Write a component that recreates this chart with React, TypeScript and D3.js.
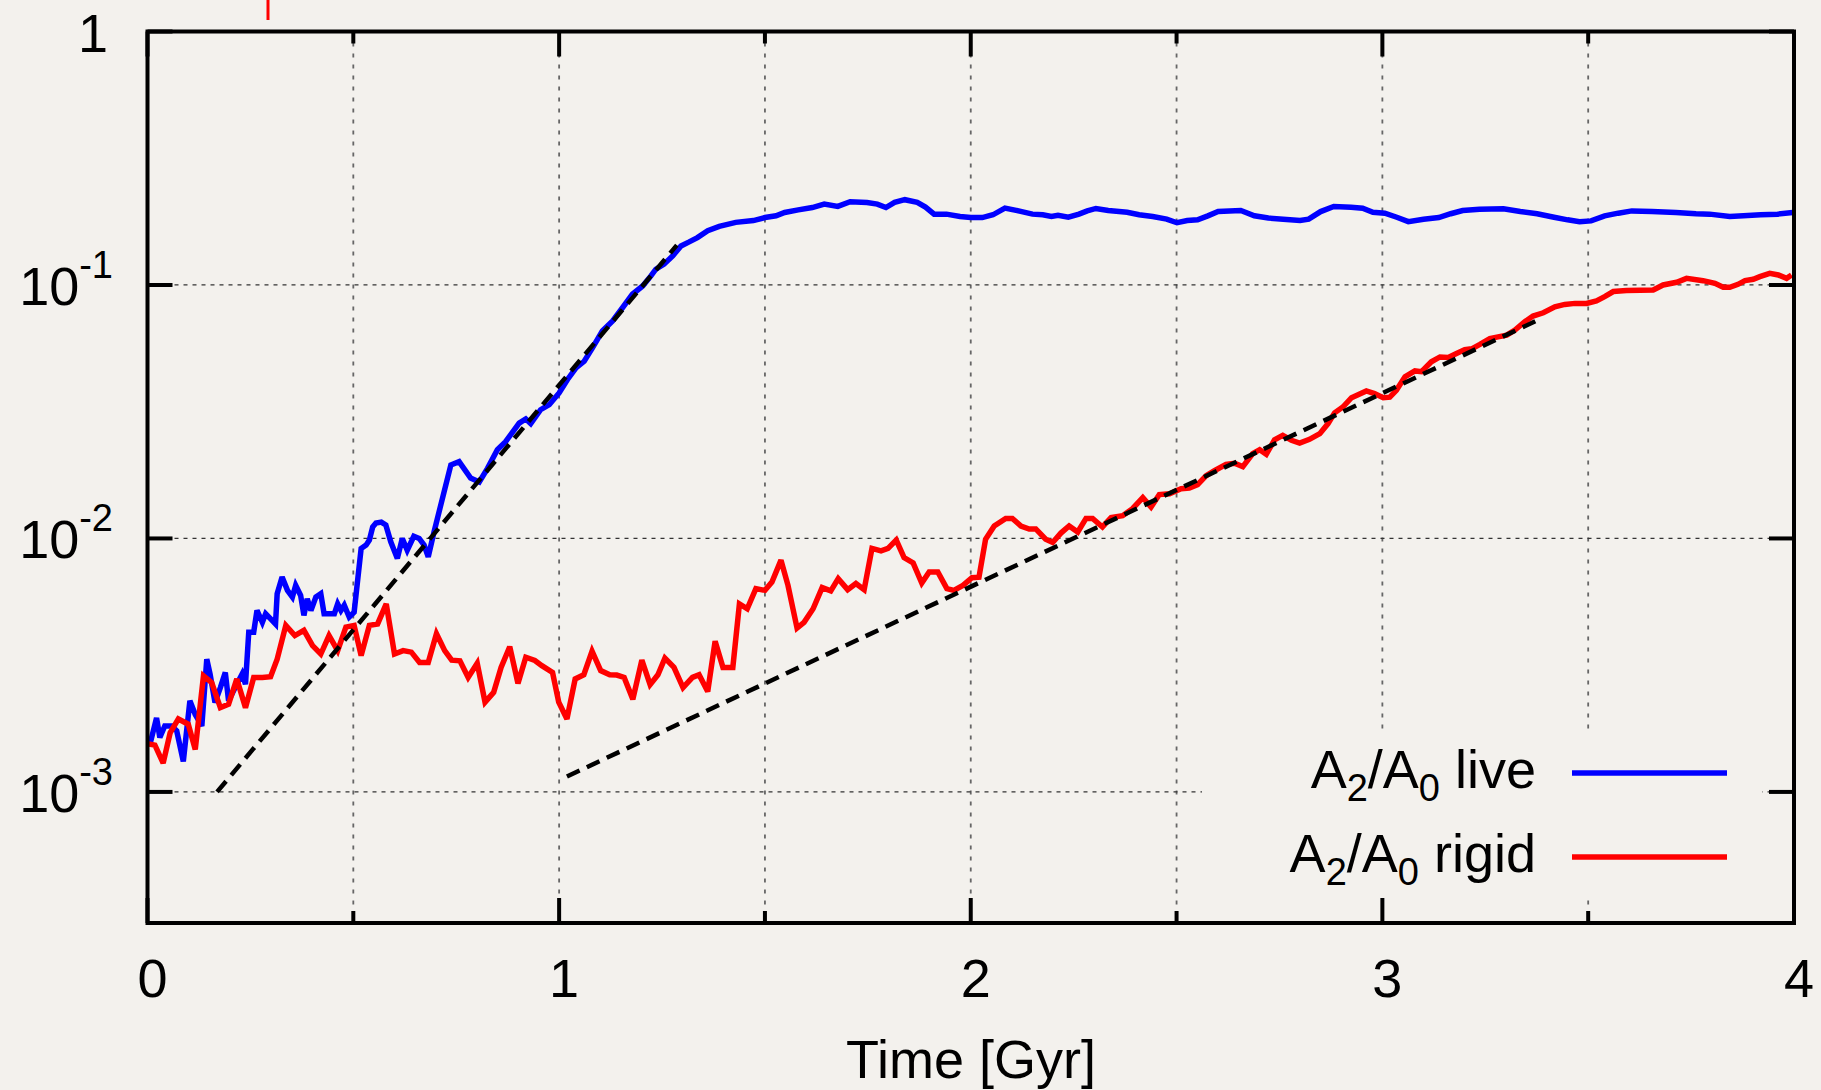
import React from 'react';
import * as d3 from 'd3';

// A2/A0 growth, live halo vs rigid halo
const liveT = [0.005, 0.022, 0.030, 0.042, 0.059, 0.071, 0.087, 0.103, 0.116, 0.132, 0.144, 0.152, 0.164, 0.177, 0.189, 0.197, 0.213, 0.230, 0.238, 0.246, 0.258, 0.266, 0.279, 0.287, 0.311, 0.315, 0.327, 0.340, 0.352, 0.360, 0.372, 0.380, 0.388, 0.397, 0.409, 0.421, 0.429, 0.441, 0.454, 0.462, 0.470, 0.478, 0.490, 0.502, 0.519, 0.531, 0.539, 0.547, 0.555, 0.568, 0.579, 0.591, 0.607, 0.619, 0.631, 0.647, 0.660, 0.672, 0.682, 0.696, 0.737, 0.757, 0.785, 0.806, 0.826, 0.850, 0.870, 0.903, 0.919, 0.931, 0.955, 0.976, 1.000, 1.020, 1.041, 1.061, 1.081, 1.105, 1.130, 1.154, 1.178, 1.203, 1.223, 1.235, 1.255, 1.276, 1.296, 1.316, 1.336, 1.361, 1.389, 1.429, 1.472, 1.500, 1.527, 1.548, 1.581, 1.615, 1.644, 1.677, 1.707, 1.748, 1.773, 1.794, 1.815, 1.840, 1.870, 1.890, 1.911, 1.941, 1.974, 2.000, 2.028, 2.054, 2.083, 2.116, 2.150, 2.175, 2.196, 2.212, 2.237, 2.263, 2.283, 2.304, 2.334, 2.380, 2.409, 2.442, 2.476, 2.501, 2.526, 2.551, 2.576, 2.601, 2.656, 2.689, 2.723, 2.759, 2.800, 2.821, 2.850, 2.882, 2.924, 2.952, 2.977, 3.006, 3.035, 3.063, 3.100, 3.137, 3.166, 3.195, 3.236, 3.294, 3.335, 3.376, 3.417, 3.450, 3.479, 3.507, 3.540, 3.573, 3.606, 3.655, 3.713, 3.762, 3.795, 3.844, 3.877, 3.919, 3.960, 3.997];
const liveA = [1.52e-3, 1.96e-3, 1.64e-3, 1.82e-3, 1.82e-3, 1.74e-3, 1.32e-3, 2.29e-3, 2.02e-3, 1.82e-3, 3.34e-3, 2.92e-3, 2.25e-3, 2.58e-3, 2.96e-3, 2.29e-3, 2.58e-3, 2.92e-3, 2.66e-3, 4.27e-3, 4.27e-3, 5.20e-3, 4.67e-3, 5.05e-3, 4.60e-3, 6.05e-3, 7.05e-3, 6.24e-3, 5.87e-3, 6.53e-3, 5.96e-3, 4.97e-3, 5.78e-3, 5.20e-3, 5.87e-3, 6.05e-3, 5.05e-3, 5.05e-3, 5.05e-3, 5.52e-3, 5.20e-3, 5.45e-3, 4.90e-3, 5.12e-3, 9.13e-3, 9.41e-3, 9.85e-3, 1.11e-2, 1.15e-2, 1.16e-2, 1.13e-2, 9.70e-3, 8.34e-3, 1.00e-2, 8.99e-3, 1.02e-2, 1.00e-2, 9.42e-3, 8.46e-3, 1.06e-2, 1.95e-2, 2.01e-2, 1.73e-2, 1.67e-2, 1.89e-2, 2.24e-2, 2.41e-2, 2.85e-2, 2.96e-2, 2.84e-2, 3.22e-2, 3.37e-2, 3.75e-2, 4.23e-2, 4.71e-2, 5.00e-2, 5.65e-2, 6.58e-2, 7.21e-2, 8.13e-2, 9.19e-2, 9.91e-2, 0.1086, 0.1154, 0.1208, 0.1303, 0.1426, 0.1479, 0.1538, 0.1636, 0.1702, 0.1766, 0.1795, 0.1845, 0.1874, 0.1932, 0.1978, 0.2021, 0.2085, 0.2041, 0.2130, 0.2117, 0.2085, 0.2021, 0.2117, 0.2170, 0.2117, 0.2028, 0.1903, 0.1903, 0.1862, 0.1845, 0.1845, 0.1892, 0.2009, 0.1960, 0.1903, 0.1892, 0.1862, 0.1885, 0.1850, 0.1903, 0.1960, 0.2004, 0.1966, 0.1937, 0.1892, 0.1862, 0.1820, 0.1760, 0.1795, 0.1807, 0.1874, 0.1950, 0.1966, 0.1874, 0.1836, 0.1818, 0.1796, 0.1818, 0.1948, 0.2040, 0.2028, 0.2009, 0.1936, 0.1920, 0.1850, 0.1778, 0.1818, 0.1845, 0.1910, 0.1966, 0.1990, 0.1997, 0.1948, 0.1910, 0.1850, 0.1807, 0.1778, 0.1790, 0.1874, 0.1920, 0.1960, 0.1948, 0.1930, 0.1910, 0.1903, 0.1862, 0.1874, 0.1892, 0.1903, 0.1930];

const rigidT = [0.000, 0.018, 0.038, 0.055, 0.075, 0.099, 0.116, 0.136, 0.156, 0.177, 0.197, 0.217, 0.238, 0.258, 0.279, 0.299, 0.315, 0.336, 0.358, 0.380, 0.401, 0.421, 0.441, 0.462, 0.482, 0.502, 0.519, 0.539, 0.559, 0.580, 0.600, 0.621, 0.641, 0.661, 0.682, 0.702, 0.722, 0.739, 0.759, 0.779, 0.801, 0.820, 0.841, 0.859, 0.880, 0.900, 0.919, 0.941, 0.958, 0.984, 0.999, 1.019, 1.039, 1.060, 1.080, 1.101, 1.123, 1.140, 1.158, 1.179, 1.201, 1.221, 1.240, 1.257, 1.279, 1.301, 1.324, 1.340, 1.361, 1.379, 1.398, 1.422, 1.438, 1.457, 1.478, 1.500, 1.517, 1.539, 1.556, 1.578, 1.595, 1.617, 1.639, 1.660, 1.678, 1.701, 1.721, 1.741, 1.760, 1.782, 1.799, 1.819, 1.838, 1.860, 1.881, 1.899, 1.920, 1.942, 1.959, 1.981, 2.003, 2.020, 2.036, 2.057, 2.085, 2.101, 2.122, 2.142, 2.158, 2.182, 2.199, 2.219, 2.239, 2.260, 2.280, 2.296, 2.320, 2.341, 2.369, 2.393, 2.418, 2.438, 2.458, 2.483, 2.511, 2.531, 2.551, 2.572, 2.592, 2.620, 2.641, 2.661, 2.685, 2.702, 2.718, 2.738, 2.758, 2.779, 2.799, 2.823, 2.848, 2.868, 2.884, 2.904, 2.925, 2.961, 2.981, 3.002, 3.018, 3.034, 3.055, 3.079, 3.095, 3.119, 3.140, 3.160, 3.180, 3.200, 3.217, 3.237, 3.261, 3.281, 3.302, 3.322, 3.346, 3.366, 3.391, 3.419, 3.443, 3.468, 3.496, 3.520, 3.540, 3.561, 3.593, 3.626, 3.658, 3.682, 3.715, 3.739, 3.779, 3.808, 3.828, 3.844, 3.864, 3.881, 3.901, 3.917, 3.941, 3.962, 3.982, 3.994];
const rigidA = [1.55e-3, 1.53e-3, 1.30e-3, 1.71e-3, 1.94e-3, 1.85e-3, 1.47e-3, 2.87e-3, 2.70e-3, 2.15e-3, 2.22e-3, 2.79e-3, 2.15e-3, 2.83e-3, 2.83e-3, 2.85e-3, 3.34e-3, 4.54e-3, 4.14e-3, 4.34e-3, 3.78e-3, 3.50e-3, 4.14e-3, 3.61e-3, 4.47e-3, 4.54e-3, 3.45e-3, 4.54e-3, 4.60e-3, 5.52e-3, 3.50e-3, 3.61e-3, 3.56e-3, 3.24e-3, 3.24e-3, 4.21e-3, 3.61e-3, 3.31e-3, 3.29e-3, 2.83e-3, 3.22e-3, 2.26e-3, 2.47e-3, 3.10e-3, 3.74e-3, 2.68e-3, 3.40e-3, 3.30e-3, 3.15e-3, 2.96e-3, 2.26e-3, 1.94e-3, 2.79e-3, 2.90e-3, 3.59e-3, 3.01e-3, 2.90e-3, 2.89e-3, 2.83e-3, 2.32e-3, 3.31e-3, 2.65e-3, 2.90e-3, 3.37e-3, 3.10e-3, 2.58e-3, 2.83e-3, 2.90e-3, 2.49e-3, 3.93e-3, 3.10e-3, 3.10e-3, 5.52e-3, 5.28e-3, 6.34e-3, 6.24e-3, 6.73e-3, 8.21e-3, 6.53e-3, 4.43e-3, 4.67e-3, 5.28e-3, 6.40e-3, 6.21e-3, 6.94e-3, 6.28e-3, 6.64e-3, 6.28e-3, 9.13e-3, 8.93e-3, 9.13e-3, 9.85e-3, 8.41e-3, 8.01e-3, 6.67e-3, 7.38e-3, 7.38e-3, 6.34e-3, 6.24e-3, 6.53e-3, 7.00e-3, 7.03e-3, 9.93e-3, 1.12e-2, 1.20e-2, 1.20e-2, 1.12e-2, 1.09e-2, 1.09e-2, 9.93e-3, 9.64e-3, 1.05e-2, 1.12e-2, 1.06e-2, 1.20e-2, 1.20e-2, 1.11e-2, 1.21e-2, 1.23e-2, 1.31e-2, 1.45e-2, 1.33e-2, 1.49e-2, 1.50e-2, 1.57e-2, 1.58e-2, 1.63e-2, 1.77e-2, 1.85e-2, 1.96e-2, 1.98e-2, 1.92e-2, 2.16e-2, 2.24e-2, 2.15e-2, 2.45e-2, 2.55e-2, 2.44e-2, 2.38e-2, 2.46e-2, 2.59e-2, 2.84e-2, 3.13e-2, 3.30e-2, 3.59e-2, 3.82e-2, 3.73e-2, 3.59e-2, 3.61e-2, 3.84e-2, 4.34e-2, 4.58e-2, 4.55e-2, 4.98e-2, 5.20e-2, 5.18e-2, 5.37e-2, 5.56e-2, 5.60e-2, 5.83e-2, 6.15e-2, 6.24e-2, 6.34e-2, 6.64e-2, 7.16e-2, 7.54e-2, 7.77e-2, 8.20e-2, 8.38e-2, 8.46e-2, 8.46e-2, 8.65e-2, 8.99e-2, 9.42e-2, 9.50e-2, 9.53e-2, 9.55e-2, 0.1000, 0.1025, 0.1062, 0.1040, 0.1015, 0.0979, 0.0979, 0.1006, 0.1040, 0.1053, 0.1079, 0.1112, 0.1095, 0.1062, 0.1095];

// exponential fits (dashed)
const fitLiveT = [0.169, 1.286];
const fitLiveA = [1.0e-3, 0.1436];
const fitRigidT = [1.019, 3.381];
const fitRigidA = [1.15e-3, 0.0731];

const xTicks = [0, 1, 2, 3, 4];
const xMinorTicks = [0.5, 1.5, 2.5, 3.5];
const yTicks = [1e-3, 1e-2, 1e-1, 1];
const yTickLabels = [['10', '-3'], ['10', '-2'], ['10', '-1'], ['1', '']];
const legendLabels = ['live', 'rigid'];
const seriesColors = ['#0000ff', '#ff0000'];

const W = 1821, H = 1090;
const m = { left: 147.5, right: 1794, top: 31.5, bottom: 923 };
const FONT = '"Liberation Sans", Arial, Helvetica, sans-serif';

export default function App() {
  const x = d3.scaleLinear().domain([0, 4]).range([m.left, m.right]);
  const y = d3.scaleLog().domain([3.04e-4, 1]).range([m.bottom, m.top]);
  const line = d3.line<[number, number]>().x(d => x(d[0])).y(d => y(d[1]));

  const zip = (t: number[], a: number[]) => t.map((v, i) => [v, a[i]] as [number, number]);
  const series = [zip(liveT, liveA), zip(rigidT, rigidA)];
  const fits = [zip(fitLiveT, fitLiveA), zip(fitRigidT, fitRigidA)];

  const gridX = [...xMinorTicks, 1, 2, 3].sort((a, b) => a - b);
  const gridY = yTicks.filter(v => v < 1);

  return (
    <svg width={W} height={H} style={{ position: 'absolute', left: 0, top: 0, display: 'block', background: '#f3f1ed' }}
         fontFamily={FONT}>
      <rect x={0} y={0} width={W} height={H} fill="#f3f1ed" />
      {/* stray mark above the frame */}
      <line x1={268} x2={268} y1={0} y2={20} stroke="#ff0000" strokeWidth={3} />

      {/* grid */}
      {gridX.map(t => (
        <line key={'gx' + t} x1={x(t)} x2={x(t)} y1={m.top} y2={m.bottom}
              stroke="#666" strokeWidth={1.8} strokeDasharray="4,7" />
      ))}
      {gridY.map(v => (
        <line key={'gy' + v} x1={m.left} x2={m.right} y1={y(v)} y2={y(v)}
              stroke="#333" strokeWidth={1.2} strokeDasharray="4,5" />
      ))}

      {/* opaque key box */}
      <rect x={1202} y={730} width={560} height={168} fill="#f3f1ed" />

      {/* data */}
      {series.map((s, i) => (
        <path key={'s' + i} d={line(s) || ''} fill="none" stroke={seriesColors[i]}
              strokeWidth={5.5} strokeLinejoin="miter" strokeMiterlimit={3} />
      ))}
      {fits.map((f, i) => (
        <path key={'f' + i} d={line(f) || ''} fill="none" stroke="#000"
              strokeWidth={4.5} strokeDasharray="14,8" />
      ))}

      {/* frame and ticks */}
      <rect x={m.left} y={m.top} width={m.right - m.left} height={m.bottom - m.top}
            fill="none" stroke="#000" strokeWidth={4} />
      {xTicks.map(t => (
        <g key={'xt' + t}>
          <line x1={x(t)} x2={x(t)} y1={m.bottom} y2={m.bottom - 25} stroke="#000" strokeWidth={4} />
          <line x1={x(t)} x2={x(t)} y1={m.top} y2={m.top + 25} stroke="#000" strokeWidth={4} />
          <text x={x(t) + 5} y={997} fontSize={54} textAnchor="middle">{t}</text>
        </g>
      ))}
      {xMinorTicks.map(t => (
        <g key={'xm' + t}>
          <line x1={x(t)} x2={x(t)} y1={m.bottom} y2={m.bottom - 12} stroke="#000" strokeWidth={4} />
          <line x1={x(t)} x2={x(t)} y1={m.top} y2={m.top + 12} stroke="#000" strokeWidth={4} />
        </g>
      ))}
      {yTicks.map((v, i) => (
        <g key={'yt' + v}>
          <line x1={m.left} x2={m.left + 25} y1={y(v)} y2={y(v)} stroke="#000" strokeWidth={4} />
          <line x1={m.right} x2={m.right - 25} y1={y(v)} y2={y(v)} stroke="#000" strokeWidth={4} />
          <text x={yTickLabels[i][1] ? 113 : 108} y={y(v) + 20} fontSize={54} textAnchor="end">
            {yTickLabels[i][0]}
            {yTickLabels[i][1] && <tspan fontSize={38} dy={-27}>{yTickLabels[i][1]}</tspan>}
          </text>
        </g>
      ))}

      <text x={971} y={1078} fontSize={54} textAnchor="middle">Time [Gyr]</text>

      {/* key */}
      {legendLabels.map((lab, i) => {
        const ly = 773 + i * 84;
        return (
          <g key={'lg' + i}>
            <text x={1536} y={ly + 15} fontSize={54} textAnchor="end">
              A<tspan fontSize={38} dy={13}>2</tspan>
              <tspan dy={-13}>/A</tspan>
              <tspan fontSize={38} dy={13}>0</tspan>
              <tspan dy={-13}>{' ' + lab}</tspan>
            </text>
            <line x1={1572} x2={1727} y1={ly} y2={ly} stroke={seriesColors[i]} strokeWidth={5.5} />
          </g>
        );
      })}
    </svg>
  );
}
